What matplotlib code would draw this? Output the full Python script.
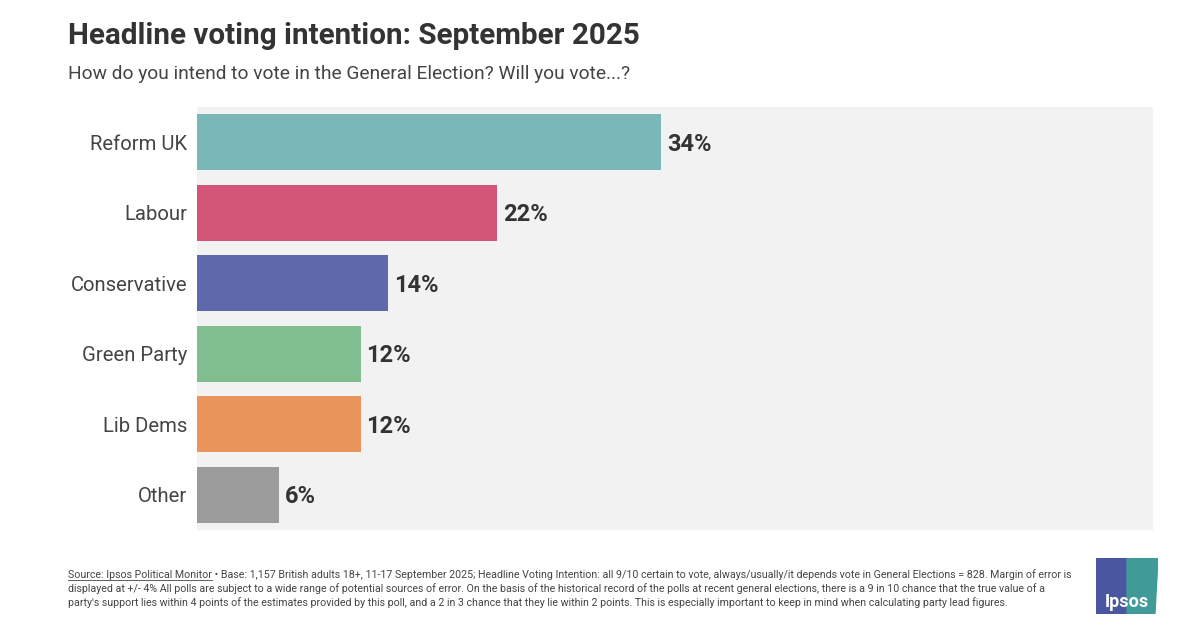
import matplotlib
matplotlib.use("Agg")
import matplotlib.pyplot as plt
from matplotlib.patches import Rectangle, Polygon

categories = ["Reform UK", "Labour", "Conservative", "Green Party", "Lib Dems", "Other"]
values = [34, 22, 14, 12, 12, 6]
colors = ["#7ab8b7", "#d35577", "#5e68aa", "#80be8f", "#e8945a", "#9b9b9b"]

title = "Headline voting intention: September 2025"
subtitle = "How do you intend to vote in the General Election? Will you vote...?"
source_label = "Source: Ipsos Political Monitor"
footer_lines = [
    " \u2022 Base: 1,157 British adults 18+, 11-17 September 2025; Headline Voting Intention: all 9/10 certain to vote, always/usually/it depends vote in General Elections = 828. Margin of error is",
    "displayed at +/- 4% All polls are subject to a wide range of potential sources of error. On the basis of the historical record of the polls at recent general elections, there is a 9 in 10 chance that the true value of a",
    "party's support lies within 4 points of the estimates provided by this poll, and a 2 in 3 chance that they lie within 2 points. This is especially important to keep in mind when calculating party lead figures.",
]

W, H = 1200, 641
fig = plt.figure(figsize=(W / 100, H / 100), dpi=100)
fig.patch.set_facecolor("white")
txt = "#333333"
font = ["Roboto", "DejaVu Sans"]
narrow = ["Liberation Sans Narrow", "Roboto", "DejaVu Sans"]

ax = fig.add_axes([197 / W, 1 - 530 / H, (1153 - 197) / W, (530 - 107) / H])
ax.set_facecolor("#f2f2f2")
y = list(range(len(categories)))
ax.barh(y, values, height=0.79, color=colors, zorder=2)
ax.set_xlim(0, 70)
ax.set_ylim(len(categories) - 0.5, -0.5)
ax.set_yticks(y)
ax.set_yticklabels(categories, fontsize=14.6, color="#444444", family=font)
ax.tick_params(axis="y", length=0, pad=7)
ax.set_xticks([])
for s in ax.spines.values():
    s.set_visible(False)
for i, v in enumerate(values):
    ax.text(v + 0.4, i + 0.03, f"{v}%", va="center", ha="left", fontsize=17,
            fontweight="bold", color=txt, family=font)

fig.text(68 / W, 1 - 44 / H, title, fontsize=21.3, fontweight="bold", color=txt,
         family=font, va="baseline")
fig.text(68 / W, 1 - 79 / H, subtitle, fontsize=13.8, color="#444444",
         family=font, va="baseline")

# footer
fs = 7.65
t0 = fig.text(68 / W, 1 - 578 / H, source_label, fontsize=fs, color="#444444",
              family=narrow, va="baseline")
fig.canvas.draw()
r = fig.canvas.get_renderer()
bb = t0.get_window_extent(r)
fig.add_artist(plt.Line2D([bb.x0 / W, bb.x1 / W], [(H - 580) / H, (H - 580) / H],
                          transform=fig.transFigure, color="#444444", lw=0.6))
fig.text(bb.x1 / W, 1 - 578 / H, footer_lines[0], fontsize=fs, color="#444444",
         family=narrow, va="baseline")
fig.text(68 / W, 1 - 592 / H, footer_lines[1], fontsize=fs, color="#444444",
         family=narrow, va="baseline")
fig.text(68 / W, 1 - 606 / H, footer_lines[2], fontsize=fs, color="#444444",
         family=narrow, va="baseline")

# logo
lx0, lx1, ly0, ly1 = 1096, 1158, 558, 614
lax = fig.add_axes([lx0 / W, 1 - ly1 / H, (lx1 - lx0) / W, (ly1 - ly0) / H])
lax.set_xlim(0, 1)
lax.set_ylim(0, 1)
lax.axis("off")
lax.add_patch(Polygon([(0, 0), (0, 1), (0.5, 1), (0.5, 0)], color="#4a57a0"))
lax.add_patch(Polygon([(0.5, 1), (1, 1), (0.95, 0), (0.5, 0)], color="#3f9a98"))
lax.text(0.5, 0.22, "Ipsos", ha="center", va="center", color="white",
         fontsize=13, fontweight="bold", family=narrow)

fig.savefig("out.png", dpi=100)
